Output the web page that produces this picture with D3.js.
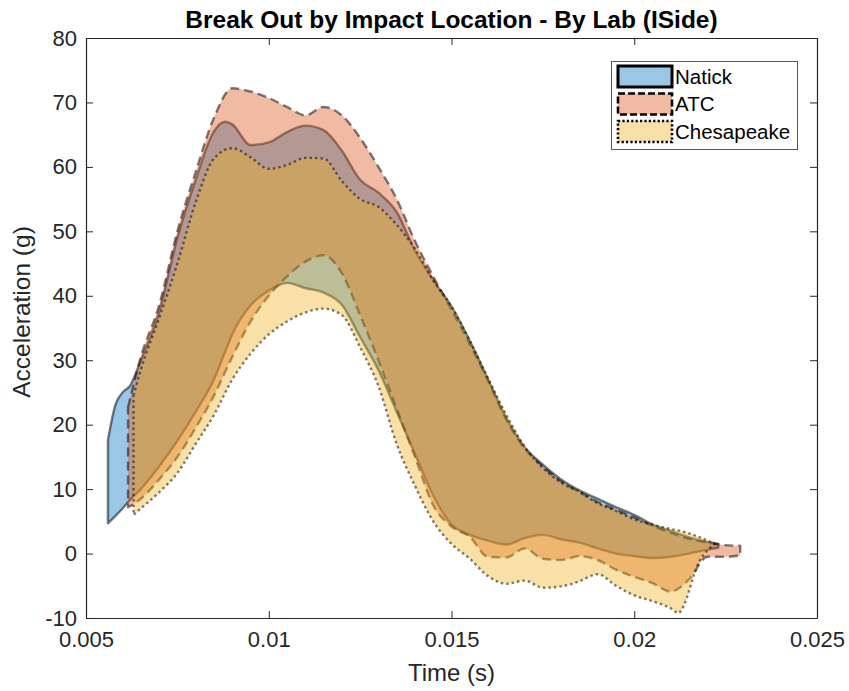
<!DOCTYPE html>
<html>
<head>
<meta charset="utf-8">
<script src="https://cdn.jsdelivr.net/npm/d3@7"></script>
<style>
  html, body { margin: 0; padding: 0; background: #fff; }
  svg { display: block; font-family: "Liberation Sans", Arial, Helvetica, sans-serif; }
</style>
</head>
<body>
<svg id="chart" width="849" height="691"></svg>
<script>
// ---------------- data ----------------
const labs = ["Natick", "ATC", "Chesapeake"];

const natickTime  = [0.0056, 0.0058, 0.0060, 0.0062, 0.0065, 0.0070, 0.0075, 0.0080, 0.0085, 0.0088, 0.0090, 0.0095, 0.0100, 0.0105, 0.0110, 0.0115, 0.0120, 0.0125, 0.0130, 0.0135, 0.0140, 0.0145, 0.0150, 0.0155, 0.0160, 0.0165, 0.0170, 0.0175, 0.0180, 0.0185, 0.0190, 0.0195, 0.0200, 0.0205, 0.0210, 0.0215, 0.0220, 0.0223];
const natickUpper = [17.6, 23.0, 25.0, 26.0, 30.0, 37.5, 49.0, 58.0, 65.5, 67.0, 66.6, 63.4, 63.8, 65.4, 66.4, 65.7, 62.5, 58.0, 56.0, 53.0, 47.0, 42.4, 38.3, 33.0, 27.0, 21.0, 16.5, 13.8, 11.5, 9.8, 8.5, 7.2, 6.0, 4.5, 3.5, 2.5, 1.8, 1.5];
const natickLower = [4.7, 5.8, 7.0, 8.3, 10.0, 13.5, 17.5, 22.0, 27.0, 31.2, 34.0, 38.5, 40.8, 42.0, 41.2, 40.5, 38.6, 33.6, 28.5, 22.0, 15.5, 9.0, 4.5, 2.9, 2.0, 1.4, 2.4, 2.9, 2.2, 1.7, 0.8, 0.0, -0.4, -0.7, -0.5, 0.0, 0.6, 0.9];

const atcTime  = [0.00615, 0.0065, 0.0070, 0.0075, 0.0080, 0.0085, 0.0090, 0.0095, 0.0100, 0.0105, 0.0110, 0.0115, 0.0120, 0.0125, 0.0130, 0.0135, 0.0140, 0.0145, 0.0150, 0.0155, 0.0160, 0.0165, 0.0170, 0.0175, 0.0180, 0.0185, 0.0190, 0.0195, 0.0200, 0.0205, 0.0210, 0.0215, 0.0220, 0.0225, 0.0229];
const atcUpper = [22.7, 30.5, 38.5, 50.0, 59.2, 67.6, 72.2, 71.7, 70.7, 69.3, 68.0, 69.3, 68.0, 64.5, 60.0, 55.0, 48.5, 43.0, 37.8, 32.5, 26.8, 20.8, 16.3, 13.5, 11.2, 9.5, 8.0, 6.8, 5.6, 4.3, 3.2, 2.3, 1.7, 1.3, 1.2];
const atcLower = [7.2, 8.5, 11.5, 15.0, 19.5, 24.5, 30.5, 36.0, 40.0, 43.0, 45.3, 46.3, 43.5, 37.0, 30.0, 22.5, 15.0, 7.5, 4.2, 2.6, -0.5, -0.6, 0.8, -0.8, -1.0, -0.4, -1.0, -2.5, -3.6, -4.6, -5.9, -4.0, -0.5, -0.5, -0.3];

const chesTime  = [0.0063, 0.0065, 0.0070, 0.0075, 0.0080, 0.0085, 0.0090, 0.0095, 0.0100, 0.0105, 0.0110, 0.0115, 0.0120, 0.0125, 0.0130, 0.0135, 0.0140, 0.0145, 0.0150, 0.0155, 0.0160, 0.0165, 0.0170, 0.0175, 0.0180, 0.0185, 0.0190, 0.0195, 0.0200, 0.0205, 0.0210, 0.0212, 0.0218, 0.0222];
const chesUpper = [24.5, 28.5, 36.5, 45.0, 54.5, 61.3, 62.9, 61.5, 59.7, 60.3, 61.4, 61.3, 57.8, 55.0, 53.8, 51.0, 47.3, 42.4, 38.3, 33.0, 27.2, 21.5, 16.6, 13.3, 11.0, 9.6, 7.8, 6.6, 5.3, 4.5, 3.8, 3.6, 2.5, 1.5];
const chesLower = [6.0, 7.0, 9.5, 12.5, 17.0, 21.5, 27.0, 31.0, 34.0, 36.0, 37.4, 38.0, 37.0, 32.0, 26.0, 17.0, 10.5, 5.0, 1.5, -0.8, -3.5, -4.7, -4.2, -5.3, -5.1, -4.3, -3.2, -5.0, -6.5, -7.4, -8.5, -9.2, -1.0, 1.5];

const xTicks = [0.005, 0.01, 0.015, 0.02, 0.025];
const xTickLabels = ["0.005", "0.01", "0.015", "0.02", "0.025"];
const yTicks = [-10, 0, 10, 20, 30, 40, 50, 60, 70, 80];
const yTickLabels = ["-10", "0", "10", "20", "30", "40", "50", "60", "70", "80"];

const titleText = "Break Out by Impact Location - By Lab (ISide)";
const xLabelText = "Time (s)";
const yLabelText = "Acceleration (g)";

// ---------------- layout / style ----------------
const W = 849, H = 691;
const m = { left: 86, right: 32, top: 38, bottom: 73 };
const faceColors = ["rgb(0,114,189)", "rgb(217,83,25)", "rgb(237,177,32)"];
const dashes = [null, "9,5", "2.5,3"];
const legendDashes = [null, "7,3", "2.2,2.2"];
const axisColor = "#262626";

const svg = d3.select("#chart");
const x = d3.scaleLinear().domain([0.005, 0.025]).range([m.left, W - m.right]);
const y = d3.scaleLinear().domain([-10, 80]).range([H - m.bottom, m.top]);

const bands = [
  { t: natickTime, up: natickUpper, lo: natickLower },
  { t: atcTime, up: atcUpper, lo: atcLower },
  { t: chesTime, up: chesUpper, lo: chesLower }
];

const area = d3.area()
  .x(d => x(d.t))
  .y0(d => y(d.lo))
  .y1(d => y(d.up))
  .curve(d3.curveMonotoneX);

bands.forEach((b, i) => {
  const rows = b.t.map((t, k) => ({ t, up: b.up[k], lo: b.lo[k] }));
  const pth = svg.append("path")
    .datum(rows)
    .attr("d", d => area(d) + "Z")
    .attr("fill", faceColors[i])
    .attr("fill-opacity", 0.4)
    .attr("stroke", "#000")
    .attr("stroke-opacity", 0.5)
    .attr("stroke-width", 2.4)
    .attr("stroke-linejoin", "round");
  if (dashes[i]) pth.attr("stroke-dasharray", dashes[i]);
});

// ---------------- axes ----------------
const fontTick = 22;
const gx = svg.append("g").attr("transform", `translate(0,${H - m.bottom})`)
  .call(d3.axisBottom(x).tickValues(xTicks).tickFormat((d, i) => xTickLabels[i]).tickSizeInner(-7).tickSizeOuter(0).tickPadding(13));
const gxt = svg.append("g").attr("transform", `translate(0,${m.top})`)
  .call(d3.axisTop(x).tickValues(xTicks).tickFormat("").tickSizeInner(-7).tickSizeOuter(0));
const gy = svg.append("g").attr("transform", `translate(${m.left},0)`)
  .call(d3.axisLeft(y).tickValues(yTicks).tickFormat((d, i) => yTickLabels[i]).tickSizeInner(-7).tickSizeOuter(0).tickPadding(9));
const gyr = svg.append("g").attr("transform", `translate(${W - m.right},0)`)
  .call(d3.axisRight(y).tickValues(yTicks).tickFormat("").tickSizeInner(-7).tickSizeOuter(0));

[gx, gxt, gy, gyr].forEach(g => {
  g.select(".domain").attr("stroke", axisColor).attr("stroke-width", 1.2);
  g.selectAll(".tick line").attr("stroke", axisColor).attr("stroke-width", 1);
  g.selectAll(".tick text").attr("fill", axisColor).attr("font-size", fontTick)
    .attr("font-family", "'Liberation Sans', Arial, sans-serif");
});

// ---------------- labels ----------------
svg.append("text")
  .attr("x", (m.left + W - m.right) / 2).attr("y", 28)
  .attr("text-anchor", "middle").attr("font-weight", "bold").attr("font-size", 24.5)
  .attr("fill", "#000").text(titleText);

svg.append("text")
  .attr("x", (m.left + W - m.right) / 2).attr("y", 681)
  .attr("text-anchor", "middle").attr("font-size", 24)
  .attr("fill", axisColor).text(xLabelText);

svg.append("text")
  .attr("transform", `translate(30,312) rotate(-90)`)
  .attr("text-anchor", "middle").attr("font-size", 24.5)
  .attr("fill", axisColor).text(yLabelText);

// ---------------- legend ----------------
const lg = svg.append("g");
lg.append("rect").attr("x", 611.5).attr("y", 61.5).attr("width", 186).attr("height", 88)
  .attr("fill", "#fff").attr("stroke", "#555").attr("stroke-width", 1);
labs.forEach((name, i) => {
  const yy = 66 + i * 27.5;
  const r = lg.append("rect").attr("x", 618).attr("y", yy).attr("width", 54).attr("height", 21)
    .attr("fill", faceColors[i]).attr("fill-opacity", 0.4)
    .attr("stroke", "#000").attr("stroke-width", i === 0 ? 3 : 2.6);
  if (legendDashes[i]) r.attr("stroke-dasharray", legendDashes[i]);
  lg.append("text").attr("x", 675).attr("y", yy + 10.5).attr("dy", "0.35em")
    .attr("font-size", 20.5).attr("fill", "#000").text(name);
});
</script>
</body>
</html>
